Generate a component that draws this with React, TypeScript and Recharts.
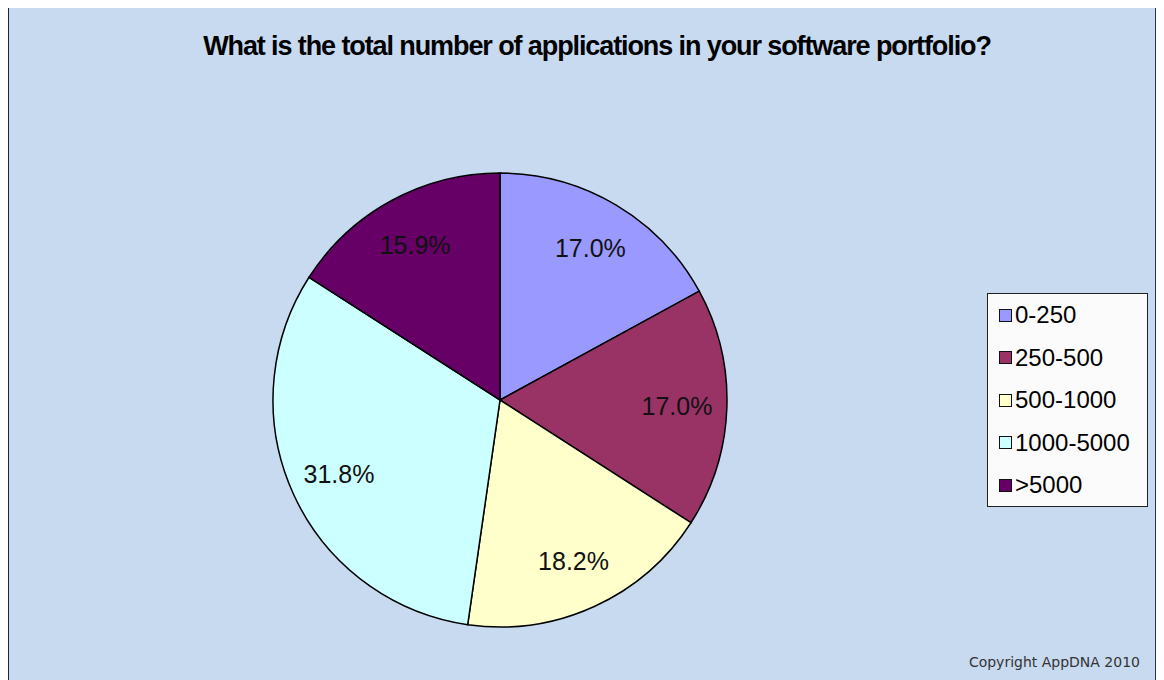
import React from 'react';
import { PieChart, Pie, Cell, Legend } from 'recharts';

const categories = ['0-250', '250-500', '500-1000', '1000-5000', '>5000'];
const responses = [15, 15, 16, 28, 14];
const colors = ['#9999ff', '#993366', '#ffffcc', '#ccffff', '#660066'];

const data = categories.map((name, i) => ({ name, value: responses[i] }));
const total = responses.reduce((a, b) => a + b, 0);

const RADIAN = Math.PI / 180;

const renderLabel = (props: any) => {
  const { cx, cy, midAngle, outerRadius, value } = props;
  const r = outerRadius * 0.78;
  const x = cx + r * Math.cos(-midAngle * RADIAN);
  const y = cy + r * Math.sin(-midAngle * RADIAN);
  return (
    <text
      x={x}
      y={y}
      textAnchor="middle"
      dominantBaseline="central"
      fill="#111"
      fontSize={25}
      fontFamily="'Liberation Sans', Arial, sans-serif"
    >
      {((value / total) * 100).toFixed(1)}%
    </text>
  );
};

const LegendBox = () => (
  <div
    style={{
      width: 159,
      height: 212,
      border: '1px solid #222',
      background: '#fbfbfb',
      boxSizing: 'content-box',
      fontFamily: "'Liberation Sans', Arial, sans-serif",
    }}
  >
    {categories.map((c, i) => (
      <div key={c} style={{ display: 'flex', alignItems: 'center', height: 42.5, paddingLeft: 11 }}>
        <span
          style={{
            width: 11,
            height: 11,
            border: '1.5px solid #111',
            background: colors[i],
            marginRight: 3,
            display: 'inline-block',
          }}
        />
        <span style={{ fontSize: 24, color: '#000' }}>{c}</span>
      </div>
    ))}
  </div>
);

const App: React.FC = () => {
  return (
    <div
      style={{
        position: 'relative',
        width: 1150,
        height: 690,
        marginLeft: -1,
        marginTop: -3,
        background: '#c8daf0',
        borderLeft: '2px solid #1b2433',
        borderTop: '2px solid #1b2433',
        borderRight: '2px solid #2a3444',
        boxSizing: 'border-box',
      }}
    >
      <div
        style={{
          position: 'absolute',
          left: 0,
          width: 1176,
          top: 24,
          textAlign: 'center',
          fontFamily: "'Liberation Sans', Arial, sans-serif",
          fontWeight: 'bold',
          fontSize: 27,
          letterSpacing: -1.1,
          color: '#000',
          whiteSpace: 'nowrap',
        }}
      >
        What is the total number of applications in your software portfolio?
      </div>
      <PieChart
        width={1146}
        height={670}
        margin={{ top: 0, right: 0, bottom: 0, left: 0 }}
        style={{ position: 'absolute', left: 0, top: 0 }}
      >
        <Pie
          data={data}
          dataKey="value"
          nameKey="name"
          cx={491}
          cy={393}
          outerRadius={227}
          startAngle={90}
          endAngle={-270}
          stroke="#000"
          strokeWidth={1.5}
          label={renderLabel}
          labelLine={false}
          isAnimationActive={false}
        >
          {data.map((entry, i) => (
            <Cell key={`cell-${i}`} fill={colors[i]} />
          ))}
        </Pie>
        <Legend
          layout="vertical"
          content={() => <LegendBox />}
          wrapperStyle={{ position: 'absolute', left: 978, top: 286, width: 'auto' }}
        />
      </PieChart>
      <div
        style={{
          position: 'absolute',
          right: 15,
          top: 647,
          fontFamily: "'DejaVu Sans', sans-serif",
          fontSize: 14,
          color: '#333',
        }}
      >
        Copyright AppDNA 2010
      </div>
    </div>
  );
};

export default App;
